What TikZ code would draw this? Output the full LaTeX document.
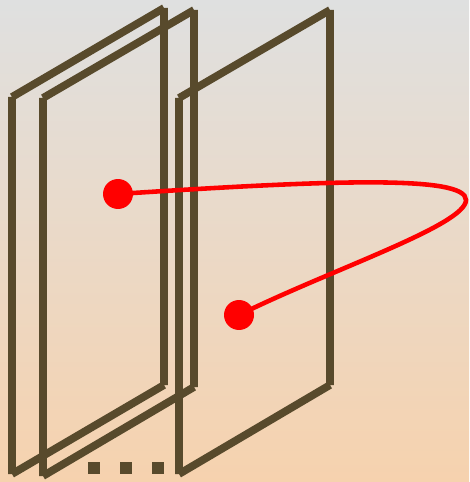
\documentclass[tikz,border=0pt]{standalone}
\usepackage{tikz}
\usetikzlibrary{calc}
\usepackage{xcolor}
\definecolor{PlaneBrown}{HTML}{584A2C}
\definecolor{DotRed}{HTML}{FF0000}
\definecolor{BgTop}{HTML}{DFE0E0}
\definecolor{BgBottom}{HTML}{F6D2AE}
\tikzset{
  plane/.style={draw=PlaneBrown, line width=4.4pt, line cap=butt},
  gap/.style={fill=PlaneBrown},
  dot/.style={circle, fill=DotRed, draw=none, minimum size=0.6cm, inner sep=0pt},
  link/.style={draw=DotRed, line width=2.6pt}
}

\begin{document}
\begin{tikzpicture}[x=0.02cm, y=-0.02cm]
\useasboundingbox (0,0) rectangle (469,482);
\shade[top color=BgTop, bottom color=BgBottom] (0,0) rectangle (469,482);
% planes
\draw[plane] (12,474) -- (12,97) (12,97) -- (164,8) (164,8) -- (164,385) (164,385) -- (12,474);
\draw[plane] (43,476) -- (43,98) (43,98) -- (194,10) (194,10) -- (194,387) (194,387) -- (43,476);
\draw[plane] (179,474) -- (179,98) (179,98) -- (330,10) (330,10) -- (330,385) (330,385) -- (179,474);
% more planes
\fill[gap] (88,462) rectangle (100,474);
\fill[gap] (120,462) rectangle (132,474);
\fill[gap] (152,462) rectangle (164,474);
% the two points and their path
\node[dot] (p1) at (118,194) {};
\node[dot] (p2) at (239,315) {};
\coordinate (turn) at (466,200);
\draw[link] (p1.center) .. controls (330,180) and (466,175) .. (turn)
  .. controls (466,225) and (330,270) .. (p2.center);
\end{tikzpicture}
\end{document}
